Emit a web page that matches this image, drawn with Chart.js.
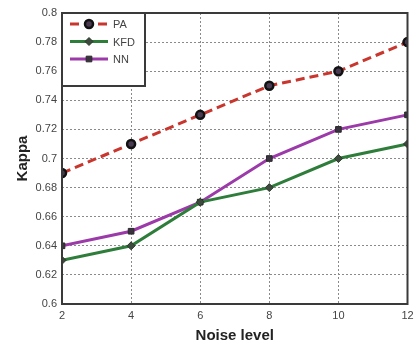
<!DOCTYPE html>
<html>
<head>
<meta charset="utf-8">
<script src="https://cdn.jsdelivr.net/npm/chart.js@4/dist/chart.umd.min.js"></script>
<style>
  html, body { margin: 0; padding: 0; background: #fff; }
  #wrap { width: 414px; height: 345px; }
</style>
</head>
<body>
<div id="wrap"><canvas id="kappaChart"></canvas></div>
<script>
// noise levels on the x axis
const noiseLevels = [2, 4, 6, 8, 10, 12];
// kappa per method
const paValues = [0.69, 0.71, 0.73, 0.75, 0.76, 0.78];
const kfdValues = [0.63, 0.64, 0.67, 0.68, 0.70, 0.71];
const nnValues = [0.64, 0.65, 0.67, 0.70, 0.72, 0.73];
const seriesNames = ['PA', 'KFD', 'NN'];

const toPoints = vals => vals.map((v, i) => ({ x: noiseLevels[i], y: v }));

// frame + legend box drawn over the plot
const framePlugin = {
    id: 'frame',
    afterDraw(chart) {
        const { ctx, chartArea: a } = chart;
        ctx.save();
        ctx.strokeStyle = '#3a3a3a';
        ctx.lineWidth = 2;
        ctx.strokeRect(a.left, a.top, a.right - a.left, a.bottom - a.top);

        // legend
        const bx = a.left, by = a.top, bw = 83, bh = 73;
        ctx.fillStyle = '#fff';
        ctx.fillRect(bx, by, bw, bh);
        ctx.strokeRect(bx, by, bw, bh);
        ctx.font = '11px "Liberation Sans", Arial, sans-serif';
        ctx.textBaseline = 'middle';
        chart.data.datasets.forEach((ds, i) => {
            const y = by + 11 + i * 17.5;
            ctx.strokeStyle = ds.borderColor;
            ctx.lineWidth = 3;
            ctx.setLineDash(ds.borderDash || []);
            ctx.beginPath();
            ctx.moveTo(bx + 8, y);
            ctx.lineTo(bx + 46, y);
            ctx.stroke();
            ctx.setLineDash([]);
            ctx.fillStyle = ds.pointBackgroundColor;
            ctx.strokeStyle = ds.pointBorderColor;
            ctx.lineWidth = ds.pointBorderWidth;
            Chart.helpers.drawPoint(ctx, {
                pointStyle: ds.pointStyle,
                radius: ds.pointRadius,
                borderWidth: ds.pointBorderWidth
            }, bx + 27, y);
            ctx.fillStyle = '#444';
            ctx.fillText(ds.label, bx + 51, y + 1);
        });
        ctx.restore();
    }
};

const ctx = document.getElementById('kappaChart').getContext('2d');
new Chart(ctx, {
    type: 'line',
    data: {
        datasets: [
            {
                label: seriesNames[0],
                data: toPoints(paValues),
                borderColor: '#c8362e',
                borderWidth: 3,
                borderDash: [9, 5],
                pointStyle: 'circle',
                pointRadius: 4,
                pointBorderWidth: 2.5,
                pointBorderColor: '#111',
                pointBackgroundColor: '#4a3a52'
            },
            {
                label: seriesNames[1],
                data: toPoints(kfdValues),
                borderColor: '#2e7d3a',
                borderWidth: 3,
                pointStyle: 'rectRot',
                pointRadius: 4,
                pointBorderWidth: 1,
                pointBorderColor: '#2a3a2a',
                pointBackgroundColor: '#3d4a3d'
            },
            {
                label: seriesNames[2],
                data: toPoints(nnValues),
                borderColor: '#9b3aa8',
                borderWidth: 3,
                pointStyle: 'rect',
                pointRadius: 4,
                pointBorderWidth: 1,
                pointBorderColor: '#2a2a2a',
                pointBackgroundColor: '#3a3340'
            }
        ]
    },
    options: {
        responsive: true,
        maintainAspectRatio: false,
        animation: false,
        layout: { padding: { top: 13, right: 5, left: 14, bottom: 0 } },
        plugins: { legend: { display: false }, tooltip: { enabled: false } },
        scales: {
            x: {
                type: 'linear',
                min: 2,
                max: 12,
                afterFit(scale) {
                    scale.height = 41;
                    scale.paddingRight = 0;
                },
                ticks: {
                    stepSize: 2,
                    color: '#444',
                    padding: 5,
                    font: { family: '"Liberation Sans", Arial, sans-serif', size: 11 }
                },
                grid: { color: '#8a8a8a', lineWidth: 1, drawTicks: false },
                border: { display: false, dash: [2, 2] },
                title: {
                    display: true,
                    text: 'Noise level',
                    color: '#222',
                    padding: { top: 2, bottom: 0 },
                    font: { family: '"Liberation Sans", Arial, sans-serif', size: 15, weight: 'bold' }
                }
            },
            y: {
                min: 0.6,
                max: 0.8,
                afterFit(scale) { scale.width = 48; },
                ticks: {
                    stepSize: 0.02,
                    color: '#444',
                    padding: 5,
                    font: { family: '"Liberation Sans", Arial, sans-serif', size: 11 },
                    callback: v => String(parseFloat(v.toFixed(2)))
                },
                grid: { color: '#8a8a8a', lineWidth: 1, drawTicks: false },
                border: { display: false, dash: [2, 2] },
                title: {
                    display: true,
                    text: 'Kappa',
                    color: '#222',
                    padding: { top: 0, bottom: 2 },
                    font: { family: '"Liberation Sans", Arial, sans-serif', size: 15, weight: 'bold' }
                }
            }
        }
    },
    plugins: [framePlugin]
});
</script>
</body>
</html>
